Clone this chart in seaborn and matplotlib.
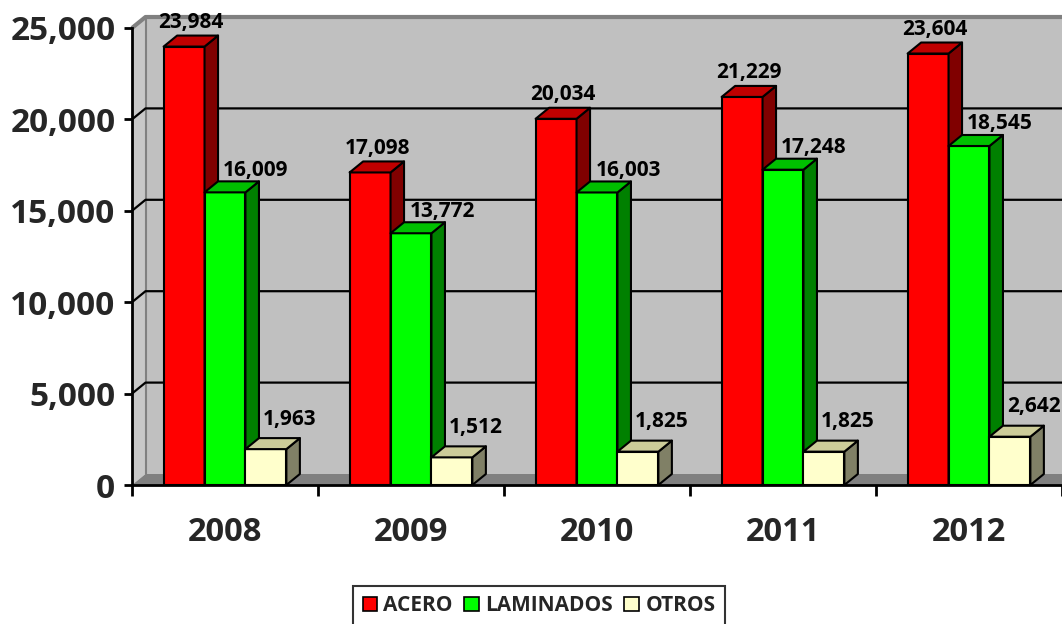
import numpy as np
import pandas as pd
import matplotlib
matplotlib.use("Agg")
import matplotlib.pyplot as plt
from matplotlib.patches import Polygon, Patch
from matplotlib.ticker import FuncFormatter
import seaborn as sns

# Production by year and product line
years = ["2008", "2009", "2010", "2011", "2012"]
series = ["ACERO", "LAMINADOS", "OTROS"]
acero = [23984, 17098, 20034, 21229, 23604]
laminados = [16009, 13772, 16003, 17248, 18545]
otros = [1963, 1512, 1825, 1825, 2642]

front_colors = ["#FF0000", "#00FF00", "#FFFFCC"]
side_colors = ["#800000", "#008000", "#808066"]
top_colors = ["#C00000", "#00C000", "#CCCC99"]

df = pd.DataFrame({
    "year": years * 3,
    "series": np.repeat(series, len(years)),
    "value": acero + laminados + otros,
})

sns.set_theme(style="white")
plt.rcParams["font.family"] = ["Open Sans", "DejaVu Sans"]
plt.rcParams["font.weight"] = "bold"

W, H = 1062, 624
fig = plt.figure(figsize=(W / 100, H / 100), dpi=100)
ax_l, ax_b, ax_w, ax_h = 132, 139, 930, 457
ax = fig.add_axes([ax_l / W, ax_b / H, ax_w / W, ax_h / H])
ax.set_facecolor("none")

YMAX = 25000
XMIN, XMAX = -0.5, len(years) - 0.5

# depth of the 3-D box, given in pixels and turned into data units
depth_px = (13.5, 11.0)
DX = depth_px[0] / (ax_w / (XMAX - XMIN))
DY = depth_px[1] / (ax_h / YMAX)

# back wall, side wall and floor
ax.add_patch(Polygon([(XMIN + DX, DY), (XMAX + DX, DY), (XMAX + DX, YMAX + DY), (XMIN + DX, YMAX + DY)],
                     closed=True, fc="#C0C0C0", ec="none", zorder=0.2, clip_on=False))
ax.add_patch(Polygon([(XMIN, 0), (XMIN, YMAX), (XMIN + DX, YMAX + DY), (XMIN + DX, DY)],
                     closed=True, fc="#C8C8C8", ec="none", zorder=0.3, clip_on=False))
ax.add_patch(Polygon([(XMIN, 0), (XMAX, 0), (XMAX + DX, DY), (XMIN + DX, DY)],
                     closed=True, fc="#808080", ec="none", zorder=0.4, clip_on=False))
ax.plot([XMIN + DX, XMIN + DX], [DY, YMAX + DY], color="#808080", lw=1.5, zorder=0.5, clip_on=False)
ax.plot([XMIN, XMIN + DX, XMAX + DX], [YMAX, YMAX + DY, YMAX + DY], color="#808080", lw=3,
        zorder=0.5, clip_on=False, solid_capstyle="butt")

# gridlines on the back wall, joined to the axis along the side wall
for v in range(5000, YMAX, 5000):
    ax.plot([XMIN, XMIN + DX, XMAX + DX], [v, v + DY, v + DY], color="black", lw=1.6,
            zorder=0.6, clip_on=False)

sns.barplot(data=df, x="year", y="value", hue="series", order=years, hue_order=series,
            palette=front_colors, saturation=1, width=0.66, gap=0, edgecolor="black",
            linewidth=1.5, legend=False, ax=ax)

label_offsets = [(7, 24), (31, 22), (24, 30)]
for i, cont in enumerate(ax.containers):
    for bar in cont.patches:
        x0 = bar.get_x()
        w = bar.get_width()
        h = bar.get_height()
        x1 = x0 + w
        bar.set_zorder(3 + i)
        side = Polygon([(x1, 0), (x1 + DX, DY), (x1 + DX, h + DY), (x1, h)], closed=True,
                       fc=side_colors[i], ec="black", lw=1.5, zorder=3 + i + 0.05,
                       joinstyle="round", clip_on=False)
        top = Polygon([(x0, h), (x1, h), (x1 + DX, h + DY), (x0 + DX, h + DY)], closed=True,
                      fc=top_colors[i], ec="black", lw=1.5, zorder=3 + i + 0.05,
                      joinstyle="round", clip_on=False)
        ax.add_patch(side)
        ax.add_patch(top)
        ox, oy = label_offsets[i]
        ax.annotate(f"{int(h):,}", xy=(x0 + w / 2, h), xytext=(ox, oy), textcoords="offset pixels",
                    ha="center", va="center", fontsize=15, fontweight="bold", color="black",
                    zorder=10, annotation_clip=False)

ax.set_xlim(XMIN, XMAX)
ax.set_ylim(0, YMAX)
ax.set_xlabel("")
ax.set_ylabel("")

for s in ["top", "right"]:
    ax.spines[s].set_visible(False)
for s in ["left", "bottom"]:
    ax.spines[s].set_color("black")
    ax.spines[s].set_linewidth(2)
    ax.spines[s].set_zorder(2)

ax.set_yticks(range(0, YMAX + 1, 5000))
ax.yaxis.set_major_formatter(FuncFormatter(lambda v, p: f"{int(v):,}"))
ax.tick_params(axis="y", direction="out", length=6, width=2, color="black", pad=6,
               labelsize=24, left=True)
for t in ax.get_yticklabels():
    t.set_fontweight("bold")

ax.set_xticks(range(len(years)), years)
ax.set_xticks(np.arange(XMIN, XMAX + 0.01, 1), minor=True)
ax.tick_params(axis="x", which="major", length=0, pad=22, labelsize=23.5)
ax.tick_params(axis="x", which="minor", direction="out", length=8, width=2, color="black", bottom=True)
for t in ax.get_xticklabels():
    t.set_fontweight("bold")

handles = [Patch(fc=c, ec="black", lw=1.2, label=s) for c, s in zip(front_colors, series)]
leg = fig.legend(handles=handles, loc="upper center", bbox_to_anchor=(539 / W, 1 - 586 / H),
                 ncol=3, frameon=True, fancybox=False, edgecolor="black",
                 prop={"weight": "bold", "size": 15}, handlelength=0.7, handleheight=0.7,
                 handletextpad=0.3, columnspacing=0.55, borderpad=0.45, borderaxespad=0)
leg.get_frame().set_linewidth(1.5)

fig.savefig("out.png", dpi=100)
